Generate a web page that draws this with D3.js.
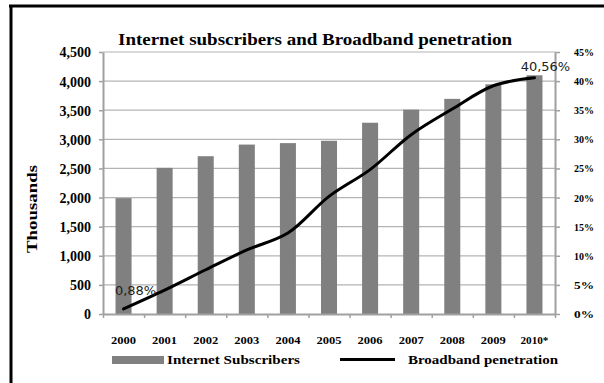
<!DOCTYPE html>
<html><head><meta charset="utf-8">
<script src="https://cdn.jsdelivr.net/npm/d3@7"></script>
<style>
html,body{margin:0;padding:0;background:#fff;}
svg{display:block;}
</style></head>
<body>
<svg id="chart" width="604" height="383"></svg>
<script>
const years = ["2000","2001","2002","2003","2004","2005","2006","2007","2008","2009","2010*"];
const subscribers = [1990, 2510, 2710, 2910, 2935, 2975, 3285, 3510, 3695, 3945, 4100];
const penetration = [0.88, 4.1, 7.6, 11.0, 13.9, 20.2, 24.8, 30.8, 35.2, 39.2, 40.56];
const leftTicks = [0,500,1000,1500,2000,2500,3000,3500,4000,4500];
const rightTicks = [0,5,10,15,20,25,30,35,40,45];
const pointLabels = [{i:0, text:"0,88%"}, {i:10, text:"40,56%"}];
const titleText = "Internet subscribers and Broadband penetration";
const legendItems = ["Internet Subscribers", "Broadband penetration"];
const yAxisTitle = "Thousands";

const svg = d3.select("#chart");
const L = 103, R = 555, T = 52, B = 314;
const serif = "'Liberation Serif','Times New Roman',serif";

// frame
svg.append("line").attr("x1",9).attr("x2",604).attr("y1",6).attr("y2",6).attr("stroke","#000").attr("stroke-width",3);
svg.append("line").attr("x1",11).attr("x2",11).attr("y1",5).attr("y2",383).attr("stroke","#000").attr("stroke-width",3);

const x = d3.scaleBand().domain(years).range([L,R]).paddingInner(0.61).paddingOuter(0.305);
const xi = d3.scaleLinear().domain([0, years.length]).range([L,R]);
const yL = d3.scaleLinear().domain([0,4500]).range([B,T]);
const yR = d3.scaleLinear().domain([0,45]).range([B,T]);

// gridlines
svg.append("g").selectAll("line").data(leftTicks.filter(d=>d>0)).join("line")
  .attr("x1",L).attr("x2",R).attr("y1",d=>yL(d)).attr("y2",d=>yL(d))
  .attr("stroke","#b4b4b4").attr("stroke-width",1.2);

// bars
svg.append("g").selectAll("rect").data(subscribers).join("rect")
  .attr("x",(d,i)=>x(years[i])).attr("width",x.bandwidth())
  .attr("y",d=>yL(d)).attr("height",d=>B-yL(d)).attr("fill","#808080");

// axes
function styleAxis(g){
  g.selectAll(".domain").attr("stroke","#a0a0a0").attr("stroke-width",2);
  g.selectAll(".tick line").attr("stroke","#a0a0a0").attr("stroke-width",1.5);
  g.selectAll("text").attr("font-family",serif).attr("font-weight","bold").attr("fill","#000");
}
const gl = svg.append("g").attr("transform",`translate(${L},0)`)
  .call(d3.axisLeft(yL).tickValues(leftTicks).tickSize(4).tickSizeOuter(0).tickPadding(8).tickFormat(d3.format(",")));
styleAxis(gl);
gl.selectAll("text").attr("font-size",14).attr("dy","0.35em");

const gr = svg.append("g").attr("transform",`translate(${R},0)`)
  .call(d3.axisRight(yR).tickValues(rightTicks).tickSize(5).tickSizeOuter(0).tickPadding(14).tickFormat(d=>d+"%"));
styleAxis(gr);
gr.selectAll("text").attr("font-size",10).attr("dy","0.35em").attr("textLength",20).attr("lengthAdjust","spacingAndGlyphs");

const gb = svg.append("g").attr("transform",`translate(0,${B})`)
  .call(d3.axisBottom(xi).tickValues(d3.range(years.length+1)).tickSize(4).tickSizeOuter(0).tickFormat(""));
styleAxis(gb);

// category labels
svg.append("g").selectAll("text").data(years).join("text")
  .attr("x",d=>x(d)+x.bandwidth()/2).attr("y",340).attr("dy","0.35em")
  .attr("text-anchor","middle").attr("font-family",serif).attr("font-weight","bold")
  .attr("font-size",10).attr("textLength",d=>d.length>4?28:25).attr("lengthAdjust","spacingAndGlyphs")
  .text(d=>d);

// line
const line = d3.line().x((d,i)=>x(years[i])+x.bandwidth()/2).y(d=>yR(d)).curve(d3.curveCatmullRom.alpha(0.5));
svg.append("path").datum(penetration).attr("d",line).attr("fill","none")
  .attr("stroke","#000").attr("stroke-width",3).attr("stroke-linecap","round");

// point labels
svg.append("g").selectAll("text").data(pointLabels).join("text")
  .attr("x",d=>d.i===0 ? x(years[d.i]) + x.bandwidth()/2 + 12 : x(years[d.i]) + x.bandwidth()/2 + 11)
  .attr("y",d=>yR(penetration[d.i]) - (d.i===0?14:7))
  .attr("text-anchor","middle").attr("font-family","'DejaVu Sans',Verdana,sans-serif")
  .attr("font-size",13).attr("fill","#222").text(d=>d.text);

// title
svg.append("text").attr("x",315).attr("y",45).attr("text-anchor","middle")
  .attr("font-family",serif).attr("font-weight","bold").attr("font-size",16)
  .attr("textLength",394).attr("lengthAdjust","spacingAndGlyphs").text(titleText);

// y axis title
svg.append("text").attr("transform","translate(37,209) rotate(-90)").attr("text-anchor","middle")
  .attr("font-family",serif).attr("font-weight","bold").attr("font-size",15)
  .attr("textLength",88).attr("lengthAdjust","spacingAndGlyphs").text(yAxisTitle);

// legend
const lg = svg.append("g");
lg.append("rect").attr("x",112).attr("y",356).attr("width",52).attr("height",8).attr("fill","#808080");
lg.append("text").attr("x",167).attr("y",360).attr("dy","0.35em").attr("font-family",serif).attr("font-weight","bold")
  .attr("font-size",12).attr("textLength",133).attr("lengthAdjust","spacingAndGlyphs").text(legendItems[0]);
lg.append("line").attr("x1",340).attr("x2",395).attr("y1",359.5).attr("y2",359.5).attr("stroke","#000").attr("stroke-width",3);
lg.append("text").attr("x",408).attr("y",360).attr("dy","0.35em").attr("font-family",serif).attr("font-weight","bold")
  .attr("font-size",12).attr("textLength",150).attr("lengthAdjust","spacingAndGlyphs").text(legendItems[1]);
</script>
</body></html>
